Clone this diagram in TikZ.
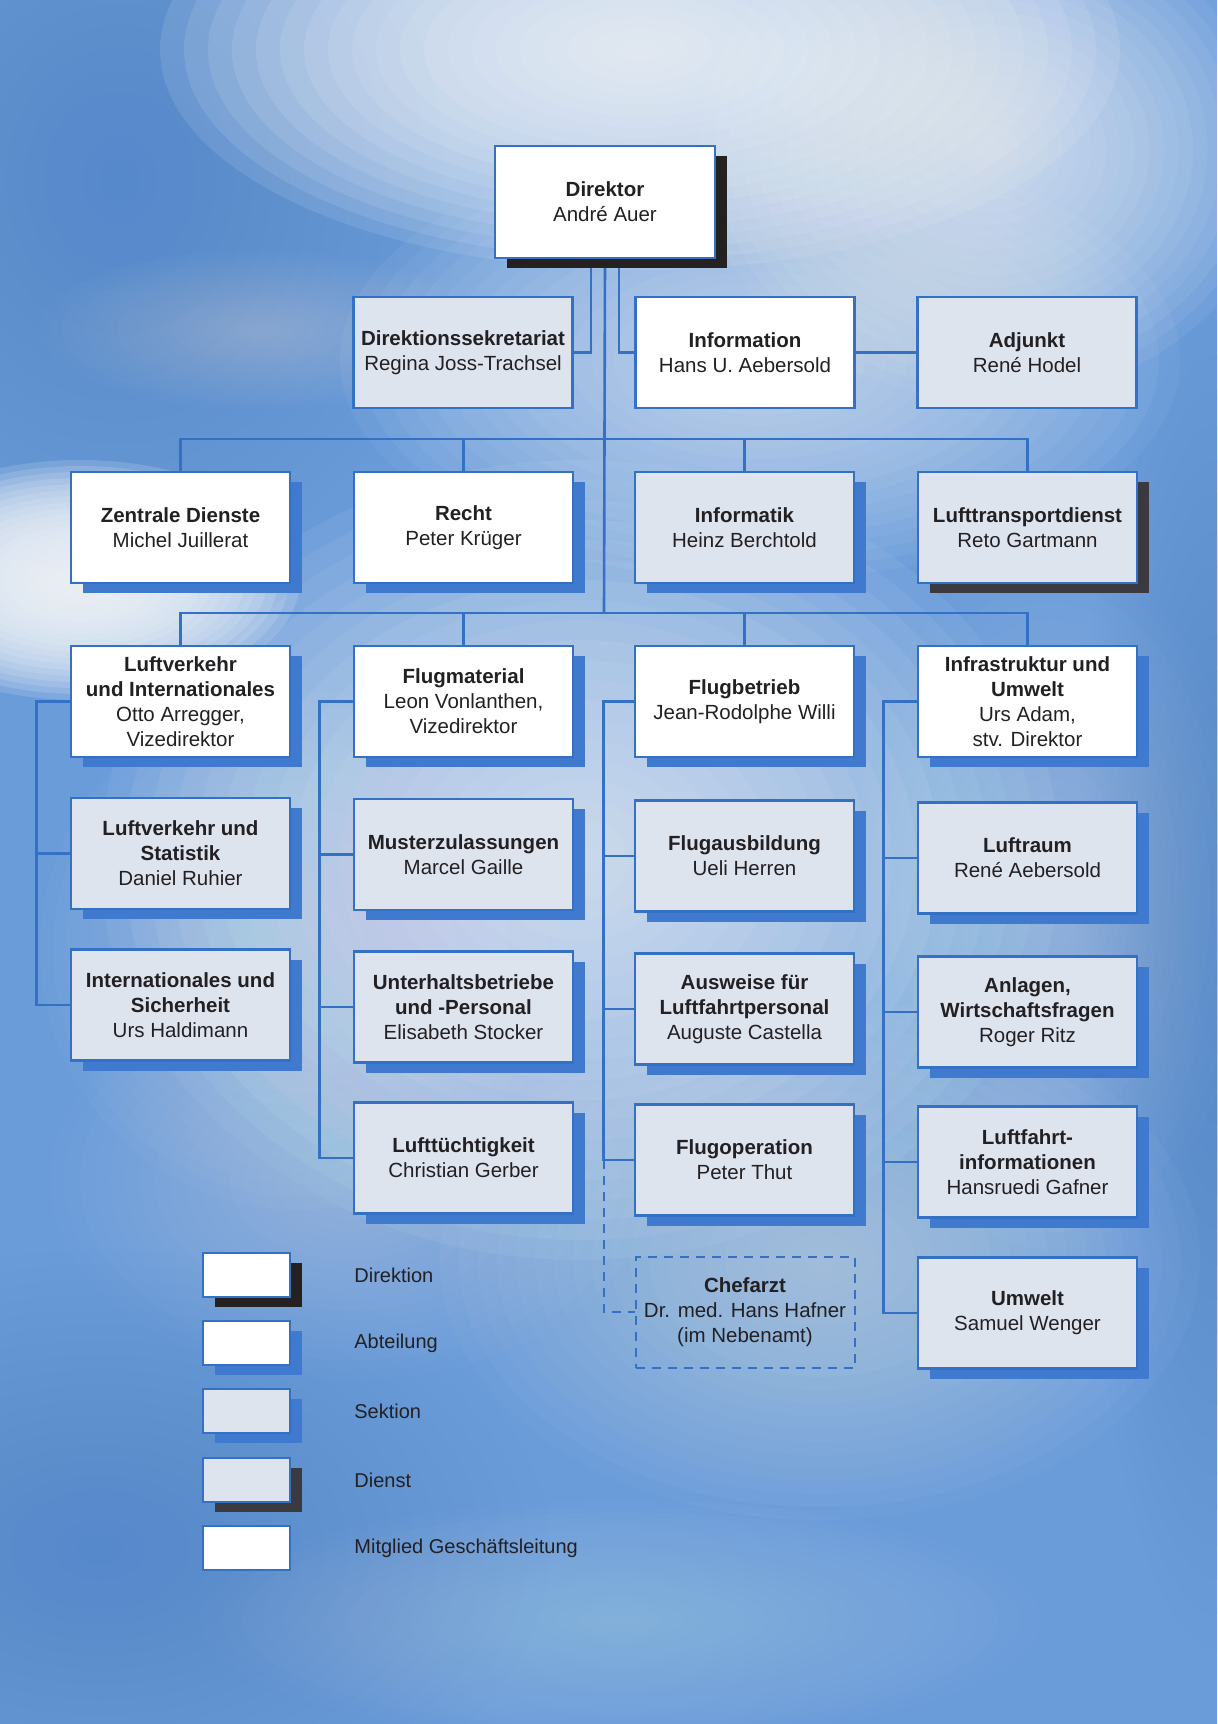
\documentclass[tikz,border=0pt]{standalone}
\usepackage{fontspec}
\setmainfont{Liberation Sans}
\usetikzlibrary{shadows}
\definecolor{bgblue}{RGB}{106,156,218}
\definecolor{bgdark}{RGB}{82,132,204}
\definecolor{lineblue}{RGB}{52,112,196}
\definecolor{shblue}{RGB}{64,122,206}
\definecolor{secfill}{RGB}{222,228,238}
\definecolor{txt}{RGB}{35,32,36}
\definecolor{dirsh}{RGB}{38,33,33}
\definecolor{diesh}{RGB}{58,58,64}
\definecolor{cloud}{RGB}{240,243,248}
\pgfdeclarelayer{bg}
\pgfdeclarelayer{lines}
\pgfsetlayers{bg,lines,main}
\tikzset{
  box/.style={draw=lineblue, line width=1.3pt, minimum width=109.5pt, minimum height=55.5pt,
    align=center, inner sep=1pt, text=txt, font=\fontsize{10.25}{12.5}\selectfont},
  shblueopt/.style={general shadow={fill=shblue, draw=none, shadow xshift=6pt, shadow yshift=-5pt}},
  abt/.style={box, fill=white, shblueopt},
  sek/.style={box, fill=secfill, shblueopt},
  dirbox/.style={box, fill=white, general shadow={fill=dirsh, draw=none, shadow xshift=6pt, shadow yshift=-5pt}},
  dienst/.style={box, fill=secfill, general shadow={fill=diesh, draw=none, shadow xshift=6pt, shadow yshift=-5pt}},
  mgl/.style={box, fill=white},
  sekplain/.style={box, fill=secfill},
  extbox/.style={box, line width=1pt, dash pattern=on 4.5pt off 3.5pt},
  conn/.style={draw=lineblue, line width=1.3pt},
  dconn/.style={draw=lineblue, line width=1pt, dash pattern=on 4.5pt off 3.5pt},
  legbox/.style={minimum width=43.5pt, minimum height=22pt},
  leglabel/.style={anchor=west, text=txt, font=\fontsize{10}{12}\selectfont, inner sep=0pt}
}
\begin{document}
\begin{tikzpicture}[x=0.5pt,y=-0.5pt]
\useasboundingbox (0,0) rectangle (1217,1724);
\begin{pgfonlayer}{bg}
  \fill[bgblue] (0,0) rectangle (1217,1724);
  % darker zones
  \foreach \cx/\cy/\rx/\ry/\la in {120/180/380/440/.0356, 100/1550/450/300/.0304, 1217/950/140/700/.0304}{
    \foreach \k in {1,...,20}{
      \fill[bgdark, opacity=\la] (\cx,\cy) ellipse [x radius={\rx*\k/20}, y radius={\ry*\k/20}];
    }
  }
  % clouds
  \foreach \cx/\cy/\rx/\ry/\la in {
      640/50/480/220/.115,
      990/150/290/250/.067,
      760/360/420/220/.051,
      80/580/220/120/.161,
      580/860/480/400/.067,
      300/950/260/260/.025,
      820/1260/380/260/.0295,
      350/1180/300/200/.0213,
      1050/900/200/350/.0177,
      260/330/220/80/.0213,
      620/1620/420/120/.0143}{
    \foreach \k in {1,...,20}{
      \fill[cloud, opacity=\la] (\cx,\cy) ellipse [x radius={\rx*\k/20}, y radius={\ry*\k/20}];
    }
  }
\end{pgfonlayer}

% Direktion and first level
\node[dirbox, minimum width=110pt, minimum height=56pt] (dir) at (605,202) {\textbf{Direktor}\\André Auer};
\node[sekplain] (dsek) at (463,352.5) {\textbf{Direktionssekretariat}\\Regina Joss-Trachsel};
\node[mgl] (info) at (745,352.5) {\textbf{Information}\\Hans U. Aebersold};
\node[sekplain] (adj) at (1027,352.5) {\textbf{Adjunkt}\\René Hodel};

% second level
\node[abt] (zd) at (180.5,527.5) {\textbf{Zentrale Dienste}\\Michel Juillerat};
\node[abt] (recht) at (463.5,527.5) {\textbf{Recht}\\Peter Krüger};
\node[sek] (infk) at (744.5,527.5) {\textbf{Informatik}\\Heinz Berchtold};
\node[dienst] (ltd) at (1027.5,527.5) {\textbf{Lufttransportdienst}\\Reto Gartmann};

% third level
\node[abt] (lvi) at (180.5,701.5) {\textbf{Luftverkehr}\\\textbf{und Internationales}\\Otto Arregger,\\Vizedirektor};
\node[abt] (fm) at (463.5,701.5) {\textbf{Flugmaterial}\\Leon Vonlanthen,\\Vizedirektor};
\node[abt] (fb) at (744.5,701.5) {\textbf{Flugbetrieb}\\Jean-Rodolphe Willi};
\node[abt] (iu) at (1027.5,701.5) {\textbf{Infrastruktur und}\\\textbf{Umwelt}\\Urs Adam,\\stv. Direktor};

% sections column 1
\node[sek] (lvs) at (180.5,853.5) {\textbf{Luftverkehr und}\\\textbf{Statistik}\\Daniel Ruhier};
\node[sek] (ins) at (180.5,1005) {\textbf{Internationales und}\\\textbf{Sicherheit}\\Urs Haldimann};
% column 2
\node[sek] (mz) at (463.5,854.5) {\textbf{Musterzulassungen}\\Marcel Gaille};
\node[sek] (ub) at (463.5,1007) {\textbf{Unterhaltsbetriebe}\\\textbf{und -Personal}\\Elisabeth Stocker};
\node[sek] (lt) at (463.5,1158) {\textbf{Lufttüchtigkeit}\\Christian Gerber};
% column 3
\node[sek] (fa) at (744.5,856) {\textbf{Flugausbildung}\\Ueli Herren};
\node[sek] (aw) at (744.5,1009) {\textbf{Ausweise für}\\\textbf{Luftfahrtpersonal}\\Auguste Castella};
\node[sek] (fo) at (744.5,1160) {\textbf{Flugoperation}\\Peter Thut};
\node[extbox] (chef) at (745,1312) {\textbf{Chefarzt}\\Dr. med. Hans Hafner\\(im Nebenamt)};
% column 4
\node[sek] (lr) at (1027.5,858) {\textbf{Luftraum}\\René Aebersold};
\node[sek] (an) at (1027.5,1012) {\textbf{Anlagen,}\\\textbf{Wirtschaftsfragen}\\Roger Ritz};
\node[sek] (lfi) at (1027.5,1162) {\textbf{Luftfahrt-}\\\textbf{informationen}\\Hansruedi Gafner};
\node[sek] (um) at (1027.5,1313) {\textbf{Umwelt}\\Samuel Wenger};

% legend
\node[dirbox, legbox] (lg1) at (246.5,1275) {};
\node[abt, legbox] (lg2) at (246.5,1343) {};
\node[sek, legbox] (lg3) at (246.5,1411) {};
\node[dienst, legbox] (lg4) at (246.5,1480) {};
\node[mgl, legbox] (lg5) at (246.5,1548) {};
\node[leglabel] (lt1) at (354,1275) {Direktion};
\node[leglabel] (lt2) at (354,1343) {Abteilung};
\node[leglabel] (lt3) at (354,1411) {Sektion};
\node[leglabel] (lt4) at (354,1480) {Dienst};
\node[leglabel] (lt5) at (354,1548) {Mitglied Geschäftsleitung};

% connectors
\coordinate (j2) at (604,439);
\coordinate (j3) at (604,613);
\begin{pgfonlayer}{lines}
  \draw[conn] (dir.south) -- (j3);
  \draw[conn] ([xshift=-7pt]dir.south) |- (dsek.east);
  \draw[conn] ([xshift=7pt]dir.south) |- (info.west);
  \draw[conn] (info.east) -- (adj.west);
  \draw[conn] (zd.north) |- (j2) -| (ltd.north);
  \draw[conn] (recht.north) -- (recht.north |- j2);
  \draw[conn] (infk.north) -- (infk.north |- j2);
  \draw[conn] (lvi.north) |- (j3) -| (iu.north);
  \draw[conn] (fm.north) -- (fm.north |- j3);
  \draw[conn] (fb.north) -- (fb.north |- j3);
  % column 1
  \draw[conn] (lvi.west) -- ++(-33,0) coordinate (c1) |- (ins.west);
  \draw[conn] (lvs.west) -- (lvs.west -| c1);
  % column 2
  \draw[conn] (fm.west) -- ++(-33,0) coordinate (c2) |- (lt.west);
  \draw[conn] (mz.west) -- (mz.west -| c2);
  \draw[conn] (ub.west) -- (ub.west -| c2);
  % column 3
  \draw[conn] (fb.west) -- ++(-30,0) coordinate (c3) |- (fo.west);
  \draw[conn] (fa.west) -- (fa.west -| c3);
  \draw[conn] (aw.west) -- (aw.west -| c3);
  \draw[dconn] (fo.west -| c3) |- (chef.west);
  % column 4
  \draw[conn] (iu.west) -- ++(-33,0) coordinate (c4) |- (um.west);
  \draw[conn] (lr.west) -- (lr.west -| c4);
  \draw[conn] (an.west) -- (an.west -| c4);
  \draw[conn] (lfi.west) -- (lfi.west -| c4);
\end{pgfonlayer}
\end{tikzpicture}
\end{document}
